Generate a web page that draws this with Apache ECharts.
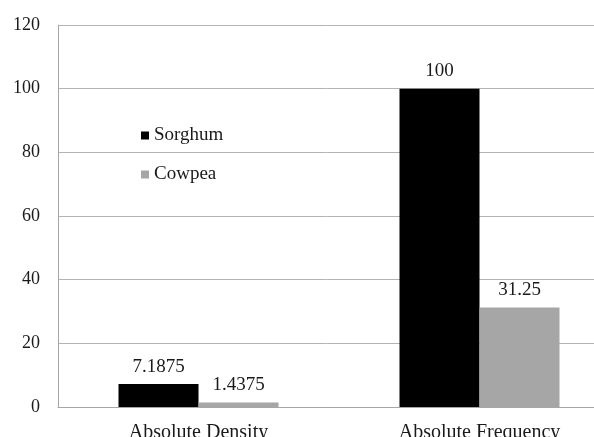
<!DOCTYPE html>
<html><head><meta charset="utf-8">
<script src="https://cdn.jsdelivr.net/npm/echarts@6/dist/echarts.min.js"></script>
<style>html,body{margin:0;padding:0;background:#fff}#c{width:594px;height:437px}</style>
</head><body><div id="c"></div>
<script>
const categories = ['Absolute Density', 'Absolute Frequency'];
const sorghum = [7.1875, 100];
const cowpea = [1.4375, 31.25];
const yTicks = [0, 20, 40, 60, 80, 100, 120];

const font = 'Liberation Serif';
const chart = echarts.init(document.getElementById('c'));
chart.setOption({
  animation: false,
  textStyle: { fontFamily: font },
  grid: { left: 58, top: 25, right: -26, bottom: 30, containLabel: false, outerBoundsMode: 'none' },
  legend: {
    orient: 'vertical', left: 136, top: 121, itemWidth: 8, itemHeight: 8, itemGap: 20,
    icon: 'rect',
    textStyle: { fontFamily: font, fontSize: 19, color: '#1a1a1a' },
    data: ['Sorghum', 'Cowpea']
  },
  xAxis: {
    type: 'category', data: categories,
    axisLine: { lineStyle: { color: '#a6a6a6', width: 1 } },
    axisTick: { show: false },
    axisLabel: { fontFamily: font, fontSize: 20, color: '#1a1a1a', margin: 16 }
  },
  yAxis: {
    type: 'value', min: yTicks[0], max: yTicks[yTicks.length - 1], interval: 20,
    axisLine: { show: true, lineStyle: { color: '#a6a6a6' } },
    axisTick: { show: false },
    splitLine: { lineStyle: { color: '#b3b3b3' } },
    axisLabel: { fontFamily: font, fontSize: 18, color: '#1a1a1a', margin: 18 }
  },
  series: [
    { name: 'Sorghum', type: 'bar', data: sorghum, barWidth: 80, barGap: '0%',
      itemStyle: { color: '#000000' },
      label: { show: true, position: 'top', distance: 8, fontFamily: font, fontSize: 19, color: '#1a1a1a' } },
    { name: 'Cowpea', type: 'bar', data: cowpea, barWidth: 80,
      itemStyle: { color: '#a6a6a6' },
      label: { show: true, position: 'top', distance: 8, fontFamily: font, fontSize: 19, color: '#1a1a1a' } }
  ]
});
</script></body></html>
